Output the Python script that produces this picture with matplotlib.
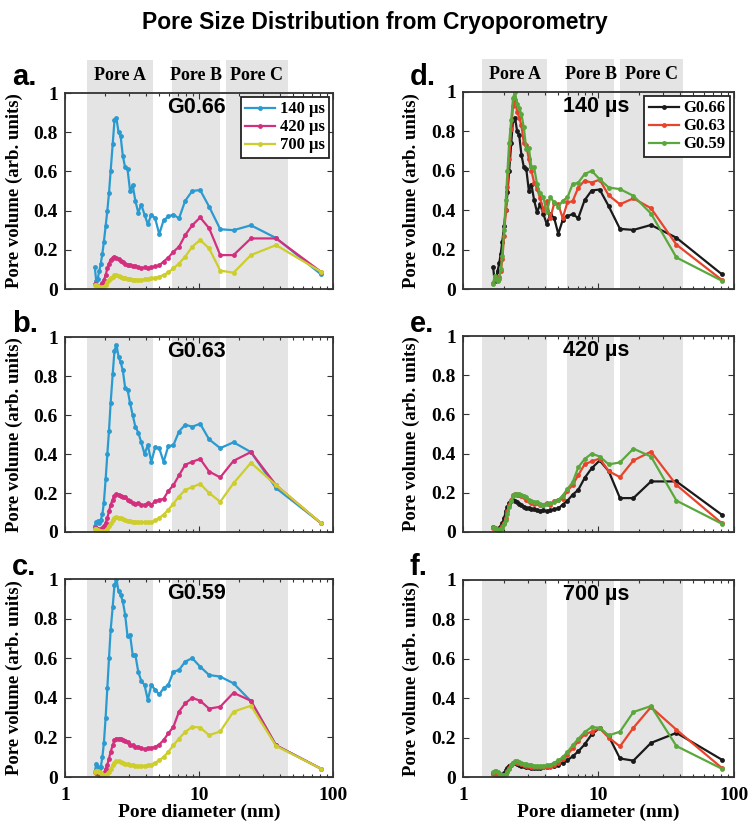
import numpy as np
import matplotlib.pyplot as plt
from matplotlib.transforms import blended_transform_factory

# pore diameters (nm), shared by every curve
diam_nm = [1.67, 1.71, 1.75, 1.80, 1.85, 1.90, 1.95, 2.01, 2.07, 2.13, 2.19, 2.27,
           2.34, 2.42, 2.51, 2.60, 2.70, 2.81, 2.93, 3.06, 3.20, 3.35, 3.52, 3.71,
           3.92, 4.15, 4.41, 4.71, 5.05, 5.44, 5.90, 6.44, 7.09, 7.89, 8.90, 10.2,
           11.9, 14.4, 18.1, 24.4, 37.6, 81.3]

# G0.66
g066_140 = [0.11, 0.04, 0.05, 0.09, 0.13, 0.18, 0.24, 0.32, 0.40, 0.49, 0.60, 0.74,
            0.86, 0.87, 0.80, 0.78, 0.68, 0.62, 0.61, 0.50, 0.53, 0.45, 0.39, 0.43,
            0.38, 0.33, 0.38, 0.36, 0.28, 0.35, 0.37, 0.38, 0.36, 0.45, 0.50, 0.505,
            0.42, 0.305, 0.30, 0.325, 0.26, 0.075]
g066_420 = [0.024, 0.02, 0.017, 0.017, 0.02, 0.03, 0.045, 0.07, 0.105, 0.13, 0.15, 0.16,
            0.165, 0.16, 0.152, 0.145, 0.138, 0.13, 0.125, 0.12, 0.115, 0.115, 0.11, 0.105,
            0.11, 0.105, 0.11, 0.115, 0.12, 0.14, 0.16, 0.19, 0.215, 0.275, 0.325, 0.365,
            0.31, 0.173, 0.173, 0.258, 0.258, 0.088]
g066_700 = [0.02, 0.02, 0.017, 0.01, 0.007, 0.009, 0.012, 0.02, 0.034, 0.046, 0.058, 0.063,
            0.071, 0.071, 0.066, 0.063, 0.058, 0.054, 0.051, 0.049, 0.046, 0.048, 0.046, 0.046,
            0.049, 0.051, 0.054, 0.058, 0.063, 0.071, 0.085, 0.105, 0.13, 0.165, 0.216, 0.25,
            0.207, 0.094, 0.083, 0.173, 0.224, 0.088]

# G0.63
g063_140 = [0.03, 0.05, 0.055, 0.046, 0.063, 0.09, 0.15, 0.27, 0.40, 0.52, 0.66, 0.81,
            0.93, 0.96, 0.90, 0.87, 0.83, 0.74, 0.73, 0.66, 0.60, 0.54, 0.51, 0.46,
            0.40, 0.445, 0.36, 0.435, 0.43, 0.36, 0.44, 0.445, 0.515, 0.55, 0.54, 0.555,
            0.475, 0.43, 0.46, 0.41, 0.225, 0.046]
g063_420 = [0.019, 0.019, 0.015, 0.012, 0.015, 0.02, 0.029, 0.046, 0.072, 0.106, 0.14, 0.165,
            0.187, 0.194, 0.19, 0.187, 0.182, 0.177, 0.165, 0.157, 0.148, 0.145, 0.148, 0.14,
            0.14, 0.148, 0.14, 0.157, 0.165, 0.17, 0.21, 0.24, 0.29, 0.345, 0.36, 0.375,
            0.31, 0.28, 0.365, 0.41, 0.24, 0.045]
g063_700 = [0.015, 0.015, 0.012, 0.007, 0.003, 0.002, 0.003, 0.007, 0.015, 0.029, 0.046, 0.06,
            0.072, 0.075, 0.073, 0.07, 0.066, 0.063, 0.058, 0.056, 0.053, 0.053, 0.051, 0.049,
            0.051, 0.049, 0.049, 0.06, 0.072, 0.089, 0.114, 0.145, 0.182, 0.216, 0.23, 0.247,
            0.20, 0.155, 0.25, 0.355, 0.24, 0.046]

# G0.59
g059_140 = [0.025, 0.068, 0.051, 0.039, 0.051, 0.10, 0.17, 0.30, 0.45, 0.60, 0.74, 0.86,
            0.97, 1.0, 0.937, 0.92, 0.887, 0.82, 0.71, 0.718, 0.617, 0.617, 0.532, 0.485,
            0.465, 0.389, 0.465, 0.44, 0.417, 0.448, 0.465, 0.532, 0.54, 0.583, 0.60, 0.557,
            0.515, 0.507, 0.473, 0.383, 0.16, 0.042]
g059_420 = [0.025, 0.022, 0.015, 0.012, 0.012, 0.015, 0.022, 0.039, 0.063, 0.093, 0.127, 0.16,
            0.186, 0.194, 0.194, 0.194, 0.189, 0.182, 0.177, 0.164, 0.16, 0.152, 0.152, 0.144,
            0.14, 0.144, 0.147, 0.152, 0.164, 0.186, 0.22, 0.253, 0.33, 0.372, 0.40, 0.385,
            0.345, 0.355, 0.425, 0.385, 0.16, 0.042]
g059_700 = [0.025, 0.032, 0.029, 0.025, 0.019, 0.012, 0.008, 0.008, 0.014, 0.025, 0.042, 0.059,
            0.073, 0.079, 0.079, 0.076, 0.071, 0.068, 0.064, 0.063, 0.059, 0.057, 0.056, 0.056,
            0.057, 0.059, 0.063, 0.073, 0.084, 0.101, 0.127, 0.16, 0.194, 0.228, 0.253, 0.25,
            0.211, 0.23, 0.33, 0.36, 0.157, 0.042]

samples = ["G0.66", "G0.63", "G0.59"]
times = ["140 µs", "420 µs", "700 µs"]
curves = {
    "G0.66": [g066_140, g066_420, g066_700],
    "G0.63": [g063_140, g063_420, g063_700],
    "G0.59": [g059_140, g059_420, g059_700],
}

pore_names = ["Pore A", "Pore B", "Pore C"]
bands_left = [(1.47, 4.54), (6.3, 14.3), (15.8, 46.0)]
bands_right = [(1.38, 4.2), (5.9, 13.1), (14.4, 42.0)]

time_colors = ["#2b9ad0", "#d2307e", "#cdcd2c"]
sample_colors = ["#1a1a1a", "#e8442c", "#5aa83c"]

SERIF = "Liberation Serif"
SANS = "Liberation Sans"
W, H = 750, 825

fig = plt.figure(figsize=(7.5, 8.25), dpi=100)


def rect(x0, x1, y0, y1):
    return [x0 / W, 1 - y1 / H, (x1 - x0) / W, (y1 - y0) / H]


left_rows = [(93, 289), (337, 532), (579, 777)]
right_rows = [(92, 289), (336, 532), (580, 777)]


def setup(ax, bands, top_row, bottom_row, ylab_x):
    ax.set_xscale("log")
    ax.set_xlim(1, 100)
    ax.set_ylim(0, 1)
    for lo, hi in bands:
        ax.axvspan(lo, hi, ymin=0, ymax=1.17 if top_row else 1,
                   color="#e4e4e4", lw=0, zorder=0, clip_on=not top_row)
    if top_row:
        tr = blended_transform_factory(ax.transData, ax.transAxes)
        for (lo, hi), name in zip(bands, pore_names):
            ax.text(np.sqrt(lo * hi), 1.088, name, transform=tr, ha="center",
                    va="center", family=SERIF, weight="bold", fontsize=13)
    ax.set_yticks([0, 0.2, 0.4, 0.6, 0.8, 1.0])
    ax.set_yticklabels(["0", "0.2", "0.4", "0.6", "0.8", "1"],
                       family=SERIF, weight="bold", fontsize=14)
    ax.set_xticks([1, 10, 100])
    if bottom_row:
        ax.set_xticklabels(["1", "10", "100"], family=SERIF, weight="bold", fontsize=14)
        ax.set_xlabel("Pore diameter (nm)", family=SERIF, weight="bold", fontsize=14,
                      labelpad=0)
    else:
        ax.set_xticklabels([])
    ax.tick_params(which="both", direction="in", top=True, right=True,
                   color="#333333", width=0.8)
    ax.tick_params(which="major", length=4, pad=5)
    ax.tick_params(which="minor", length=2)
    ax.tick_params(axis="x", which="major", pad=7)
    for sp in ax.spines.values():
        sp.set_color("#333333")
        sp.set_linewidth(1.3)
        sp.set_zorder(5)
    ax.set_ylabel("Pore volume (arb. units)", family=SERIF, weight="bold", fontsize=13.5)
    ax.yaxis.set_label_coords(ylab_x, 0.5)


def legend(ax, labels, colors):
    handles = [plt.Line2D([], [], color=c, lw=1.6, marker="o", ms=3.5, mew=0) for c in colors]
    leg = ax.legend(handles, labels, loc="upper right", fancybox=False, framealpha=1,
                    edgecolor="#222222", borderpad=0.25, labelspacing=0.12,
                    handlelength=1.8, handletextpad=0.3, borderaxespad=0.25,
                    prop={"family": SERIF, "weight": "bold", "size": 12})
    leg.get_frame().set_linewidth(1.3)
    leg.set_zorder(6)


letters_left = ["a.", "b.", "c."]
letters_right = ["d.", "e.", "f."]
baselines = [85, 332, 575]

# left column: one sample per panel, three freezing times
for i, s in enumerate(samples):
    y0, y1 = left_rows[i]
    ax = fig.add_axes(rect(65, 333, y0, y1))
    setup(ax, bands_left, i == 0, i == 2, -0.158)
    for vals, c in zip(curves[s], time_colors):
        ax.plot(diam_nm, vals, "-o", color=c, lw=1.6, ms=3.5, mew=0, zorder=3)
    ax.text(0.49, 0.925, s, transform=ax.transAxes, ha="center", va="center",
            family=SANS, weight="bold", fontsize=15.5)
    if i == 0:
        legend(ax, times, time_colors)
    fig.text(12 / W, 1 - baselines[i] / H, letters_left[i], ha="left", va="baseline",
             family=SANS, weight="bold", fontsize=21)

# right column: one freezing time per panel, three samples
for j, t in enumerate(times):
    y0, y1 = right_rows[j]
    ax = fig.add_axes(rect(463, 734, y0, y1))
    setup(ax, bands_right, j == 0, j == 2, -0.16)
    for s, c in zip(samples, sample_colors):
        ax.plot(diam_nm, curves[s][j], "-o", color=c, lw=1.6, ms=3.5, mew=0, zorder=3)
    ax.text(0.49, 0.925, t, transform=ax.transAxes, ha="center", va="center",
            family=SANS, weight="bold", fontsize=15.5)
    if j == 0:
        legend(ax, samples, sample_colors)
    fig.text(410 / W, 1 - baselines[j] / H, letters_right[j], ha="left", va="baseline",
             family=SANS, weight="bold", fontsize=21)

fig.text(0.5, 1 - 22 / H, "Pore Size Distribution from Cryoporometry", ha="center",
         va="center", family=SANS, weight="bold", fontsize=16.5)

fig.savefig("out.png", dpi=100)
